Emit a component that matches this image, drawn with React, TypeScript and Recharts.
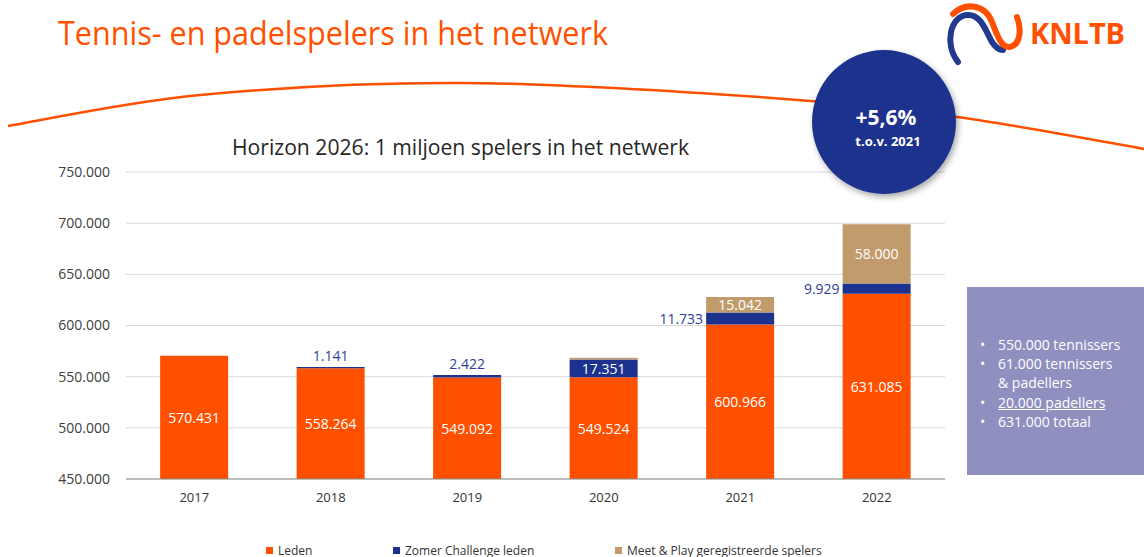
import React from 'react';
import { BarChart, Bar, XAxis, YAxis, CartesianGrid, LabelList } from 'recharts';

const years = ['2017', '2018', '2019', '2020', '2021', '2022'];
const leden = [570431, 558264, 549092, 549524, 600966, 631085];
const zomer = [0, 1141, 2422, 17351, 11733, 9929];
const meetPlay = [0, 0, 0, 1500, 15042, 58000];
const yTicks = [450000, 500000, 550000, 600000, 650000, 700000, 750000];
const seriesNames = ['Leden', 'Zomer Challenge leden', 'Meet & Play geregistreerde spelers'];
const boxLines = ['550.000 tennissers', '61.000 tennissers', '& padellers', '20.000 padellers', '631.000 totaal'];
const pageTitle = 'Tennis- en padelspelers in het netwerk';
const chartTitle = 'Horizon 2026: 1 miljoen spelers in het netwerk';
const badgeMain = '+5,6%';
const badgeSub = 't.o.v. 2021';

const ORANGE = '#FF5000';
const BLUE = '#1D318E';
const TAN = '#C19B6C';
const BLUE_TEXT = '#2E3D9A';
const FONT = '"Open Sans", "Noto Sans", sans-serif';

const axisMin = yTicks[0];
const axisMax = yTicks[yTicks.length - 1];

// Stack segments as [start, end] ranges, built from the series arrays
const data = years.map((y, i) => {
  const a = leden[i];
  const b = a + zomer[i];
  const c = b + meetPlay[i];
  return {
    year: y,
    leden: [axisMin, a],
    zomer: [a, b],
    meet: [b, c],
  };
});

const fmt = (n: number) => String(Math.round(n)).replace(/\B(?=(\d{3})+(?!\d))/g, '.');

const findIdx = (key: 'leden' | 'zomer' | 'meet', p: any) => {
  const v = p.value;
  if (Array.isArray(v)) {
    const i = data.findIndex((d) => d[key][0] === v[0] && d[key][1] === v[1]);
    if (i >= 0) return i;
  }
  if (p.payload && p.payload.year) return years.indexOf(p.payload.year);
  return -1;
};

const arcPts: [number, number][] = [[8, 126], [200, 95], [460, 83], [760, 97], [957, 117], [1150, 150]];
function catmull(pts: [number, number][]) {
  let d = `M ${pts[0][0]} ${pts[0][1]}`;
  for (let i = 0; i < pts.length - 1; i++) {
    const p0 = pts[i - 1] || pts[i];
    const p1 = pts[i];
    const p2 = pts[i + 1];
    const p3 = pts[i + 2] || p2;
    const c1x = p1[0] + (p2[0] - p0[0]) / 6;
    const c1y = p1[1] + (p2[1] - p0[1]) / 6;
    const c2x = p2[0] - (p3[0] - p1[0]) / 6;
    const c2y = p2[1] - (p3[1] - p1[1]) / 6;
    d += ` C ${c1x} ${c1y} ${c2x} ${c2y} ${p2[0]} ${p2[1]}`;
  }
  return d;
}

const getBox = (p: any) => {
  const vb = p.viewBox && p.viewBox.width !== undefined ? p.viewBox : p;
  let y = Number(vb.y);
  let h = Number(vb.height);
  if (h < 0) { y = y + h; h = -h; }
  return { x: Number(vb.x), y, w: Number(vb.width), h };
};

const LedenLabel = (p: any) => {
  const { x, y, w, h } = getBox(p);
  const idx = findIdx('leden', p);
  const v = leden[idx];
  if (!v || isNaN(x)) return null;
  return (
    <text x={x + w / 2} y={y + h / 2} textAnchor="middle" dominantBaseline="central" fill="#fff" fontSize={14} fontFamily={FONT}>
      {fmt(v)}
    </text>
  );
};

const ZomerLabel = (p: any) => {
  const { x, y, w, h } = getBox(p);
  const idx = findIdx('zomer', p);
  const v = zomer[idx];
  if (!v || isNaN(x)) return null;
  const mp = meetPlay[idx] || 0;
  if (h < 8) {
    return (
      <text x={x + w / 2} y={y - 6} textAnchor="middle" fill={BLUE_TEXT} fontSize={14} fontFamily={FONT}>
        {fmt(v)}
      </text>
    );
  }
  if (mp > 5000) {
    return (
      <text x={x - 3} y={y + h / 2} textAnchor="end" dominantBaseline="central" fill={BLUE_TEXT} fontSize={14} fontFamily={FONT}>
        {fmt(v)}
      </text>
    );
  }
  return (
    <text x={x + w / 2} y={y + h / 2} textAnchor="middle" dominantBaseline="central" fill="#fff" fontSize={14} fontFamily={FONT}>
      {fmt(v)}
    </text>
  );
};

const MeetLabel = (p: any) => {
  const { x, y, w, h } = getBox(p);
  const idx = findIdx('meet', p);
  const v = meetPlay[idx];
  if (!v || v < 5000 || isNaN(x)) return null;
  return (
    <text x={x + w / 2} y={y + h / 2} textAnchor="middle" dominantBaseline="central" fill="#fff" fontSize={14} fontFamily={FONT}>
      {fmt(v)}
    </text>
  );
};

export default function App() {
  return (
    <div style={{ position: 'absolute', left: 0, top: 0, width: 1144, height: 557, background: '#fff', overflow: 'hidden', fontFamily: FONT }}>
      <svg width={1144} height={557} style={{ position: 'absolute', left: 0, top: 0 }}>
        <path d={catmull(arcPts)} fill="none" stroke={ORANGE} strokeWidth={2.5} />
      </svg>
      <div style={{ position: 'absolute', left: 0, top: 0 }}>
        <BarChart width={1144} height={557} data={data} margin={{ top: 172, right: 199, left: 0, bottom: 48 }} barCategoryGap="25%">
          <CartesianGrid vertical={false} stroke="#d9d9d9" xAxisId="a" />
          <XAxis xAxisId="a" dataKey="year" height={30} tickLine={false} axisLine={{ stroke: '#8c8c8c' }} tickMargin={8}
            tick={{ fill: '#333', fontSize: 13, fontFamily: FONT }} />
          <XAxis xAxisId="b" dataKey="year" hide />
          <XAxis xAxisId="c" dataKey="year" hide />
          <YAxis width={126} domain={[axisMin, axisMax]} ticks={yTicks} axisLine={false} tickLine={false}
            tickMargin={10} tickFormatter={(v: number) => fmt(v)} tick={{ fill: '#404040', fontSize: 14, fontFamily: FONT }} />
          <Bar xAxisId="a" dataKey="leden" fill={ORANGE} isAnimationActive={false}>
            <LabelList dataKey="leden" content={LedenLabel} />
          </Bar>
          <Bar xAxisId="b" dataKey="zomer" fill={BLUE} isAnimationActive={false}>
            <LabelList dataKey="zomer" content={ZomerLabel} />
          </Bar>
          <Bar xAxisId="c" dataKey="meet" fill={TAN} isAnimationActive={false}>
            <LabelList dataKey="meet" content={MeetLabel} />
          </Bar>
        </BarChart>
      </div>
      <svg width={1144} height={557} style={{ position: 'absolute', left: 0, top: 0, pointerEvents: 'none' }}>
        <defs>
          <filter id="sh" x="-30%" y="-30%" width="160%" height="160%">
            <feDropShadow dx="2" dy="3" stdDeviation="3" floodColor="#000" floodOpacity="0.35" />
          </filter>
        </defs>
        <text x={58} y={45} fill={ORANGE} fontSize={33} fontFamily={FONT} textLength={550} lengthAdjust="spacingAndGlyphs">
          {pageTitle}
        </text>
        <text x={232} y={155} fill="#262626" fontSize={21} fontFamily={FONT} textLength={457} lengthAdjust="spacingAndGlyphs">
          {chartTitle}
        </text>
        <circle cx={884} cy={122} r={72} fill="#1C318C" filter="url(#sh)" />
        <text x={886} y={125} textAnchor="middle" fill="#fff" fontSize={21} fontWeight={700} fontFamily={FONT}>{badgeMain}</text>
        <text x={888} y={146} textAnchor="middle" fill="#fff" fontSize={13} fontWeight={700} fontFamily={FONT}>{badgeSub}</text>
        <path d="M 958 62 C 944 45, 950 15, 968 15 C 982 15, 986 32, 992 42 C 996 48, 1000 50, 1003 50" fill="none" stroke="#223A8C" strokeWidth={6} strokeLinecap="round" />
        <path d="M 953 14 C 965 2, 985 4, 992 22 C 998 38, 1002 48, 1010 47 C 1020 45, 1022 30, 1017 17" fill="none" stroke={ORANGE} strokeWidth={6} strokeLinecap="round" />
        <text x={1030} y={44} fill={ORANGE} fontSize={29} fontWeight={700} fontFamily={FONT} textLength={95} lengthAdjust="spacingAndGlyphs">KNLTB</text>
      </svg>
      <div style={{ position: 'absolute', left: 967, top: 287, width: 177, height: 188, background: '#8F90BF' }}>
        {boxLines.map((t, i) => {
          const tops = [58, 77, 96, 116, 135];
          const bullet = i !== 2;
          return (
            <div key={i} style={{ position: 'absolute', left: 0, top: tops[i] - 10, height: 20, lineHeight: '20px', fontSize: 14, color: '#fff', whiteSpace: 'nowrap' }}>
              {bullet && <span style={{ position: 'absolute', left: 13, fontSize: 14 }}>•</span>}
              <span style={{ position: 'absolute', left: 31, textDecoration: i === 3 ? 'underline' : 'none' }}>{t}</span>
            </div>
          );
        })}
      </div>
      {seriesNames.map((n, i) => {
        const lefts = [266, 393, 615];
        const cols = [ORANGE, BLUE, TAN];
        return (
          <div key={n} style={{ position: 'absolute', left: lefts[i], top: 543, height: 14, display: 'flex', alignItems: 'center', fontSize: 12, color: '#333', whiteSpace: 'nowrap' }}>
            <span style={{ display: 'inline-block', width: 7, height: 7, background: cols[i], marginRight: 5 }} />
            {n}
          </div>
        );
      })}
    </div>
  );
}
